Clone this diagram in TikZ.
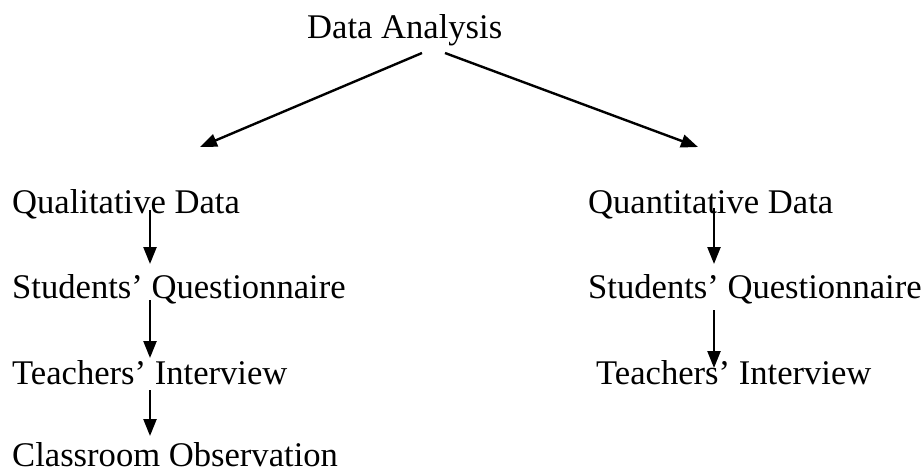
\documentclass[tikz,border=0pt]{standalone}
\usepackage{fontspec}
\setmainfont{Liberation Serif}
\usetikzlibrary{arrows.meta}
\begin{document}
\begin{tikzpicture}[x=1pt,y=-1pt,
  label/.style={anchor=base west,inner sep=0pt,font=\fontsize{34.6}{40}\selectfont},
  arr/.style={line width=2.4pt,-{Triangle[width=13pt,length=17pt]}}]
\useasboundingbox[fill=white] (0,0) rectangle (924,472);
% heading
\node[label] (da) at (307,38) {Data Analysis};
% left branch
\node[label] (ql)  at (12,213) {Qualitative Data};
\node[label] (sq1) at (12,298) {Students’ Questionnaire};
\node[label] (ti1) at (12,384) {Teachers’ Interview};
\node[label] (co)  at (12,466) {Classroom Observation};
% right branch
\node[label] (qn)  at (588,213) {Quantitative Data};
\node[label] (sq2) at (588,298) {Students’ Questionnaire};
\node[label] (ti2) at (596,384) {Teachers’ Interview};
% arrow end points
\coordinate (daL) at (422,53);
\coordinate (daR) at (445,53);
\coordinate (qlIn) at (200,147);
\coordinate (qnIn) at (698,147);
\coordinate (l1a) at (150,210); \coordinate (l1b) at (150,264);
\coordinate (l2a) at (150,300); \coordinate (l2b) at (150,358);
\coordinate (l3a) at (150,390); \coordinate (l3b) at (150,436);
\coordinate (r1a) at (714,208); \coordinate (r1b) at (714,264);
\coordinate (r2a) at (714,310); \coordinate (r2b) at (714,368);
\draw[arr] (daL) -- (qlIn);
\draw[arr] (daR) -- (qnIn);
\draw[arr] (l1a) -- (l1b);
\draw[arr] (l2a) -- (l2b);
\draw[arr] (l3a) -- (l3b);
\draw[arr] (r1a) -- (r1b);
\draw[arr] (r2a) -- (r2b);
\end{tikzpicture}
\end{document}
